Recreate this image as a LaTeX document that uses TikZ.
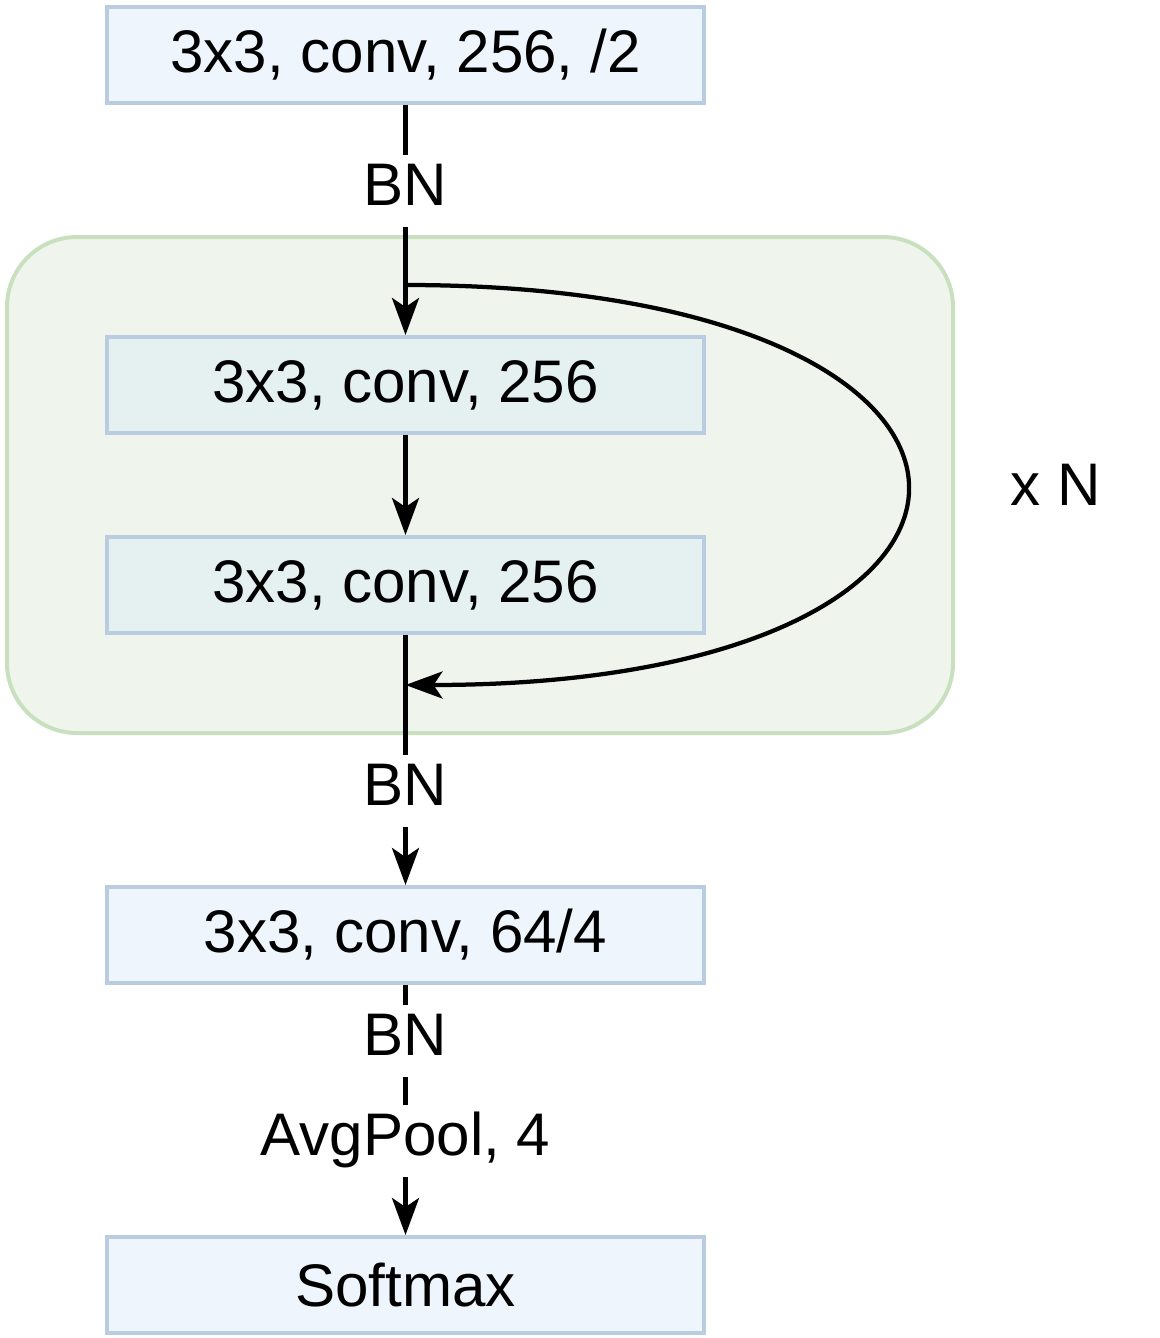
\documentclass[tikz,border=0pt]{standalone}
\usepackage{fontspec}
\setmainfont{Liberation Sans}
\usepackage{tikz}
\usetikzlibrary{arrows.meta,positioning,calc,backgrounds}
\definecolor{boxfill}{HTML}{EEF5FD}
\definecolor{boxline}{HTML}{B9CCE0}
\definecolor{inboxfill}{HTML}{E5F0F1}
\definecolor{grpfill}{HTML}{EFF5EC}
\definecolor{grpline}{HTML}{C9E0BF}

\begin{document}
\begin{tikzpicture}[
  font=\fontsize{34.2}{41}\selectfont,
  layer/.style={rectangle, draw=boxline, fill=boxfill, line width=0.08cm,
                minimum width=11.94cm, minimum height=1.92cm, inner sep=0pt},
  inlayer/.style={layer, fill=inboxfill},
  blk/.style={rectangle, rounded corners=1.4cm, draw=grpline, fill=grpfill,
              line width=0.08cm, minimum width=18.92cm, minimum height=9.92cm},
  lbl/.style={fill=white, inner sep=5pt, text height=24pt, text depth=7pt},
  arr/.style={-{Stealth[length=0.74cm, width=0.54cm, inset=0.18cm]}, line width=0.085cm}
]
\useasboundingbox (0,0) rectangle (23.18,-26.76);
\node[layer] (conv1) at (8.11,-1.1) {3x3, conv, 256, /2};
\node[inlayer, below=4.6cm of conv1] (conv2) {3x3, conv, 256};
\node[inlayer, below=2cm of conv2] (conv3) {3x3, conv, 256};
\node[layer, below=5cm of conv3] (conv4) {3x3, conv, 64/4};
\node[layer, below=5cm of conv4] (soft) {Softmax};
\begin{scope}[on background layer]
\node[blk] (grp) at ($(conv2)!0.5!(conv3)+(1.49,0)$) {};
\end{scope}
\node[right=1.1cm of grp, inner sep=0pt] (rep) {x N};
\coordinate (split) at ($(conv2.north)+(0,1)$);
\coordinate (merge) at ($(conv3.south)+(0,-1)$);
\draw[arr] (conv1) -- node[lbl, pos=0.374] {BN} (conv2);
\draw[arr] (conv2) -- (conv3);
\draw[arr] (conv3) -- node[lbl, pos=0.624] {BN} (conv4);
\draw[arr] (conv4) -- node[lbl, pos=0.224] {BN} node[lbl, pos=0.624] {AvgPool, 4} (soft);
\draw[arr] (split) .. controls +(13.34,0) and +(13.34,0) .. (merge);
\end{tikzpicture}
\end{document}
